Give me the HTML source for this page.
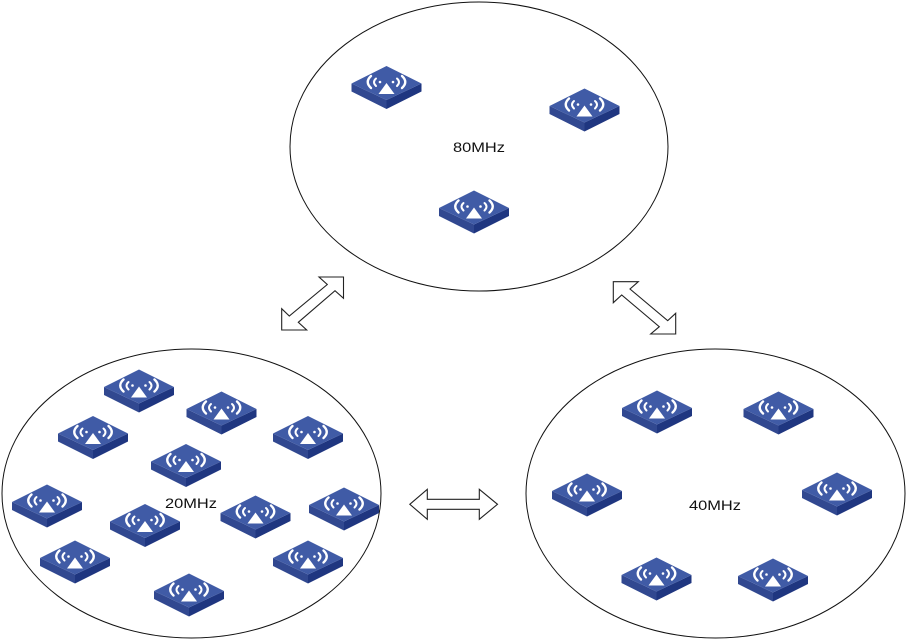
<!DOCTYPE html>
<html>
<head>
<meta charset="utf-8">
<style>
html,body{margin:0;padding:0;background:#fff;width:908px;height:641px;overflow:hidden}
svg{display:block}
text{font-family:"Liberation Sans",sans-serif;font-size:14px;fill:#111}
</style>
</head>
<body>
<svg width="908" height="641" viewBox="0 0 908 641" xmlns="http://www.w3.org/2000/svg">
<defs>
<g id="ap">
<polygon points="-35,17 0,33.5 0,42.5 -35,25" fill="#314890"/>
<polygon points="35,17 0,33.5 0,42.5 35,25" fill="#1f3680"/>
<polygon points="0,-0.5 35,17 0,33.5 -35,17" fill="#405ba6"/>
<g fill="none" stroke="#fff" stroke-linecap="round">
<path d="M-15.5,9.5 Q-22,15.5 -15.5,21.5" stroke-width="2.4"/>
<path d="M15.5,9.5 Q22,15.5 15.5,21.5" stroke-width="2.4"/>
<path d="M-10.5,12 Q-14.5,15.5 -10.5,19.5" stroke-width="2"/>
<path d="M10.5,12 Q14.5,15.5 10.5,19.5" stroke-width="2"/>
</g>
<circle cx="-6.5" cy="15.5" r="1.3" fill="#fff"/>
<circle cx="6.5" cy="15.5" r="1.3" fill="#fff"/>
<polygon points="0,16.5 8,27.5 -8,27.5" fill="#fff"/>
</g>
</defs>

<ellipse cx="479" cy="146.5" rx="189" ry="144.5" fill="#fff" stroke="#111" stroke-width="1"/>
<ellipse cx="191.5" cy="493.5" rx="189.5" ry="144.5" fill="#fff" stroke="#111" stroke-width="1"/>
<ellipse cx="715.5" cy="493.5" rx="189.5" ry="144.5" fill="#fff" stroke="#111" stroke-width="1"/>

<g fill="#fff" stroke="#222" stroke-width="1.1">
<polygon points="343.5,277 319,277 327.3,284.5 289.3,316 281.7,308.7 281.7,330 306.7,330 298.3,322.3 335,290.7 343.5,298.3"/>
<polygon points="613.3,281.7 638.3,281.7 630,289 667.7,320.7 675.7,313.3 675.7,334 650.7,334 659.3,326.7 621.7,295 613.3,302.7"/>
<polygon points="409.8,504.3 427.3,489.3 427.3,499.3 479.3,499.3 479.3,489.3 497.5,504.3 479.3,519.3 479.3,509.3 427.3,509.3 427.3,519.3"/>
</g>

<use href="#ap" x="386.5" y="66.5"/>
<use href="#ap" x="584.5" y="89"/>
<use href="#ap" x="474" y="191"/>

<use href="#ap" x="139" y="370"/>
<use href="#ap" x="221.5" y="392"/>
<use href="#ap" x="93" y="416.5"/>
<use href="#ap" x="308" y="416.5"/>
<use href="#ap" x="186" y="444.5"/>
<use href="#ap" x="47" y="485"/>
<use href="#ap" x="344" y="488"/>
<use href="#ap" x="145" y="504.5"/>
<use href="#ap" x="255.5" y="496"/>
<use href="#ap" x="75" y="541"/>
<use href="#ap" x="308" y="541"/>
<use href="#ap" x="189" y="574"/>

<use href="#ap" x="657" y="391"/>
<use href="#ap" x="778.5" y="392"/>
<use href="#ap" x="587" y="474"/>
<use href="#ap" x="837" y="473"/>
<use href="#ap" x="656.5" y="558"/>
<use href="#ap" x="773" y="559"/>

<text x="453" y="152" textLength="52" lengthAdjust="spacingAndGlyphs">80MHz</text>
<text x="165" y="508" textLength="52" lengthAdjust="spacingAndGlyphs">20MHz</text>
<text x="689" y="510" textLength="52" lengthAdjust="spacingAndGlyphs">40MHz</text>
</svg>
</body>
</html>
